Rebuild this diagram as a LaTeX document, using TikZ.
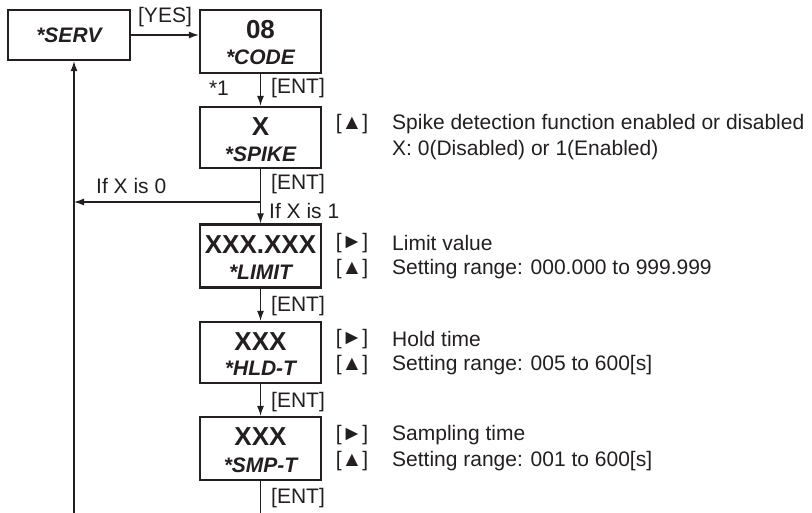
\documentclass[tikz,border=0pt]{standalone}
\usepackage{fontspec}
\setmainfont{Liberation Sans}
\usetikzlibrary{arrows.meta}
\definecolor{ink}{HTML}{231F20}
\newcommand\labfont{\fontsize{21}{25}\selectfont}
\newcommand\valfont{\fontsize{26}{30}\selectfont\bfseries}
\newcommand\namfont{\fontsize{21}{25}\selectfont\bfseries\itshape}
\begin{document}
\begin{tikzpicture}[x=1pt,y=-1pt,
  box/.style={draw=ink, line width=2.3pt, rectangle, minimum width=121pt, inner sep=0pt},
  valtxt/.style={text=ink, inner sep=0pt, font=\valfont},
  namtxt/.style={text=ink, inner sep=0pt, font=\namfont},
  lab/.style={text=ink, inner sep=0pt, font=\labfont},
  conn/.style={draw=ink, line width=1.2pt},
  arr/.style={conn, -{Latex[length=10pt,width=7pt]}}]
\useasboundingbox (0,0) rectangle (812,513);
% boxes
\node[box, minimum width=122pt, minimum height=50pt] (serv) at (69,35) {};
\node[box, minimum height=63pt] (code) at (260.5,41.5) {};
\node[box, minimum height=61pt] (spike) at (260.5,137.5) {};
\node[box, minimum height=63pt] (limit) at (260.5,256) {};
\node[box, minimum height=61pt] (hldt) at (260.5,352.5) {};
\node[box, minimum height=63pt] (smpt) at (260.5,448.5) {};
% box texts
\node[namtxt] (servn) at (69,35) {*SERV};
\node[valtxt] (codev) at (260.5,30) {08};
\node[namtxt] (coden) at (260.5,57) {*CODE};
\node[valtxt] (spikev) at (260.5,127) {X};
\node[namtxt] (spiken) at (260.5,154) {*SPIKE};
\node[valtxt] (limitv) at (260.5,245) {XXX.XXX};
\node[namtxt] (limitn) at (260.5,272) {*LIMIT};
\node[valtxt] (hldtv) at (260.5,342) {XXX};
\node[namtxt] (hldtn) at (260.5,368) {*HLD-T};
\node[valtxt] (smptv) at (260.5,437) {XXX};
\node[namtxt] (smptn) at (260.5,465) {*SMP-T};
% connectors
\coordinate (bl) at (74,513);
\coordinate (br) at (260.5,202);
\coordinate (be) at (260.5,513);
\draw[arr] (serv.east) -- (serv.east -| code.west);
\draw[arr] (code.south) -- (spike.north);
\draw[arr] (spike.south) -- (limit.north);
\draw[arr] (br) -- (br -| bl);
\draw[arr] (bl) -- (bl |- serv.south);
\draw[arr] (limit.south) -- (hldt.north);
\draw[arr] (hldt.south) -- (smpt.north);
\draw[conn] (smpt.south) -- (be);
% connector labels
\node[lab] (yes) at (165,17) {[YES]};
\node[lab] (star1) at (219,88) {*1};
\node[lab, anchor=west] (ent1) at (271,88) {[ENT]};
\node[lab, anchor=west] (ent2) at (271,184) {[ENT]};
\node[lab, anchor=west] (if0) at (96,186) {If X is 0};
\node[lab, anchor=west] (if1) at (269,211) {If X is 1};
\node[lab, anchor=west] (ent3) at (271,306) {[ENT]};
\node[lab, anchor=west] (ent4) at (271,402) {[ENT]};
\node[lab, anchor=west] (ent5) at (271,498) {[ENT]};
% side texts
\node[lab] (k1) at (352,124) {[▲]};
\node[lab, anchor=west] (t1a) at (392,124) {Spike detection function enabled or disabled};
\node[lab, anchor=west] (t1b) at (392,150) {X: 0(Disabled) or 1(Enabled)};
\node[lab] (k2a) at (352,243) {[►]};
\node[lab] (k2b) at (352,269) {[▲]};
\node[lab, anchor=west] (t2a) at (392,243) {Limit value};
\node[lab, anchor=west] (t2b) at (392,269) {Setting range: 000.000 to 999.999};
\node[lab] (k3a) at (352,339) {[►]};
\node[lab] (k3b) at (352,365) {[▲]};
\node[lab, anchor=west] (t3a) at (392,339) {Hold time};
\node[lab, anchor=west] (t3b) at (392,365) {Setting range: 005 to 600[s]};
\node[lab] (k4a) at (352,435) {[►]};
\node[lab] (k4b) at (352,461) {[▲]};
\node[lab, anchor=west] (t4a) at (392,435) {Sampling time};
\node[lab, anchor=west] (t4b) at (392,461) {Setting range: 001 to 600[s]};
\end{tikzpicture}
\end{document}
